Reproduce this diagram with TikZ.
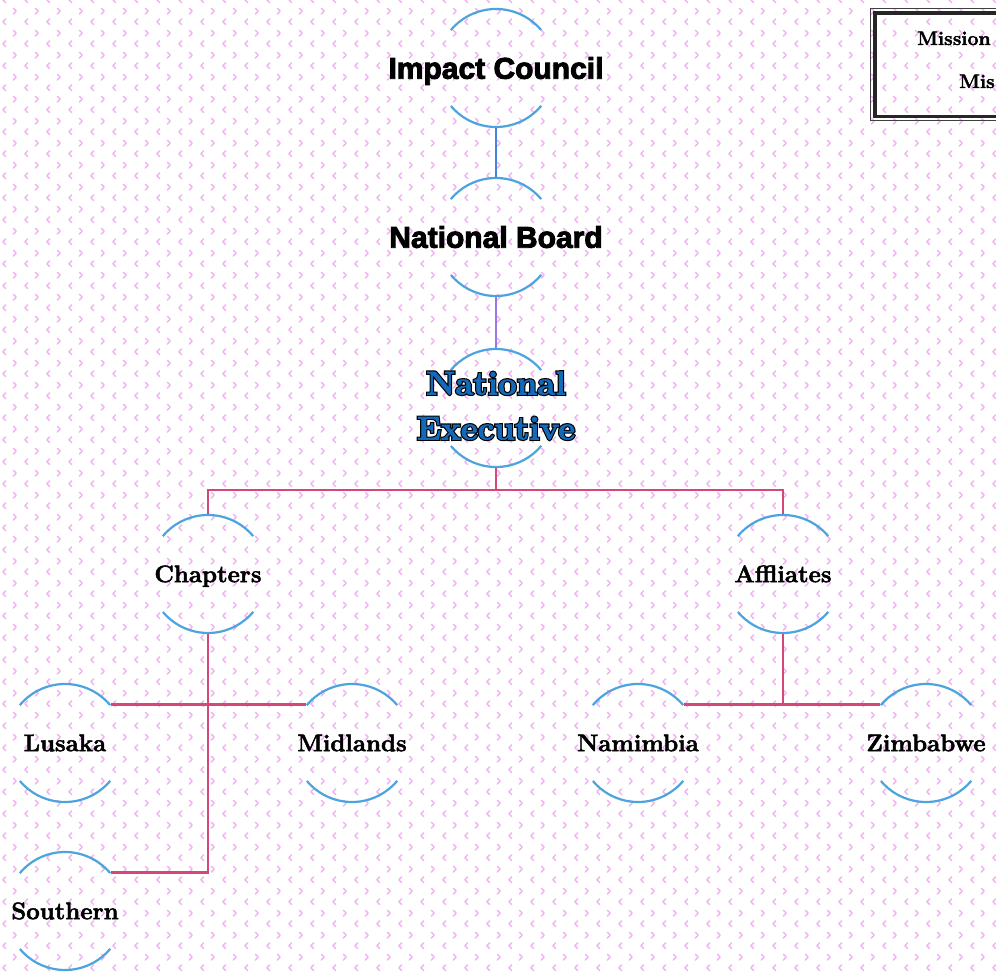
\documentclass[tikz,border=0pt]{standalone}
\usepackage{fontspec}
\setmainfont{Latin Modern Roman}[BoldFeatures={FakeBold=2}]
\newfontfamily\councilfont{Liberation Sans}[BoldFeatures={FakeBold=3}]
\newfontfamily\execoutline{Latin Modern Roman}[BoldFeatures={FakeBold=9}]
\usetikzlibrary{patterns.meta}

\definecolor{arcblue}{RGB}{76,163,222}
\definecolor{linkpink}{RGB}{213,72,118}
\definecolor{linkblue}{RGB}{70,130,222}
\definecolor{linkviolet}{RGB}{150,122,228}
\definecolor{execblue}{RGB}{20,105,185}
\definecolor{chevron}{RGB}{240,178,240}

\tikzdeclarepattern{
  name=chevrons,
  type=uncolored,
  bounding box={(0pt,0pt) and (22pt,22pt)},
  tile size={(22pt,22pt)},
  code={
    \draw[line width=1.5pt, line cap=round, line join=round] (7pt,8.5pt) -- (4pt,5.5pt) -- (7pt,2.5pt);
    \draw[line width=1.5pt, line cap=round, line join=round] (15pt,19.5pt) -- (18pt,16.5pt) -- (15pt,13.5pt);
  }
}

% zero width label, so the circle keeps its size
\newcommand\zw[1]{\makebox[0pt]{#1}}
% blue letters with a black rim
\newcommand\outlined[1]{\sbox0{#1}\rlap{\makebox[\wd0]{\execoutline\bfseries #1}}\textcolor{execblue}{#1}}

\tikzset{
  unit/.style={circle, minimum size=118pt, inner sep=0pt, draw=arcblue, line width=2.2pt,
    dash pattern=on 103pt off 82.4pt, dash phase=144.2pt},
  title/.style={font=\councilfont\bfseries\fontsize{30}{36}\selectfont, text height=21.5pt, text depth=0pt},
  branch/.style={font=\bfseries\fontsize{24}{28}\selectfont, text height=16.4pt, text depth=0pt},
  mission/.style={anchor=base west, inner sep=0pt, font=\bfseries\fontsize{19.5}{24}\selectfont},
  link/.style={line width=2.5pt, draw=linkpink},
}

\begin{document}
\begin{tikzpicture}[x=1pt,y=-1pt]
    \path[use as bounding box, clip] (0,0) rectangle (996,973);

    % Background
    \fill[white] (0,0) rectangle (996,973);
    \fill[pattern=chevrons, pattern color=chevron] (0,0) rectangle (996,973);

    % Top levels
    \node[unit, title] (impact) at (496,68) {\zw{Impact Council}};
    \node[unit, title] (board) at (496,237) {\zw{National Board}};
    \node[unit, font=\bfseries\fontsize{33}{45}\selectfont] (exec) at (496,408)
      {\zw{\begin{tabular}{@{}c@{}}\outlined{National}\\\outlined{Executive}\end{tabular}}};

    % Branches
    \node[unit, branch] (chapters) at (208,574) {\zw{Chapters}};
    \node[unit, branch] (affliates) at (783,574) {\zw{Affliates}};
    \node[unit, branch] (lusaka) at (65,743) {\zw{Lusaka}};
    \node[unit, branch] (midlands) at (352,743) {\zw{Midlands}};
    \node[unit, branch] (southern) at (65,911) {\zw{Southern}};
    \node[unit, branch] (namimbia) at (638,743) {\zw{Namimbia}};
    \node[unit, branch] (zimbabwe) at (926,743) {\zw{Zimbabwe}};

    % Links
    \draw[link, draw=linkblue] (impact) -- (board);
    \draw[link, draw=linkviolet] (board) -- (exec);
    \coordinate (fork) at ([yshift=-22pt]exec.south);
    \draw[link] (exec.south) -- (fork);
    \draw[link] (chapters.north) |- (fork) -| (affliates.north);
    \draw[link] (lusaka.40) -- (midlands.140);
    \draw[link] (chapters.south) |- (southern.40);
    \draw[link] (namimbia.40) -- (zimbabwe.140);
    \draw[link] (affliates.south) -- (affliates.south |- namimbia.40);

    % Mission box
    \draw[line width=1.2pt, black!75] (870.5,8.5) rectangle (1010,120.5);
    \draw[line width=3.5pt, black!85] (875,13) rectangle (1010,116.5);
    \node[mission] (mission) at (917,45) {Mission};
    \node[mission] (missionsub) at (959,88) {Mis};
\end{tikzpicture}
\end{document}
